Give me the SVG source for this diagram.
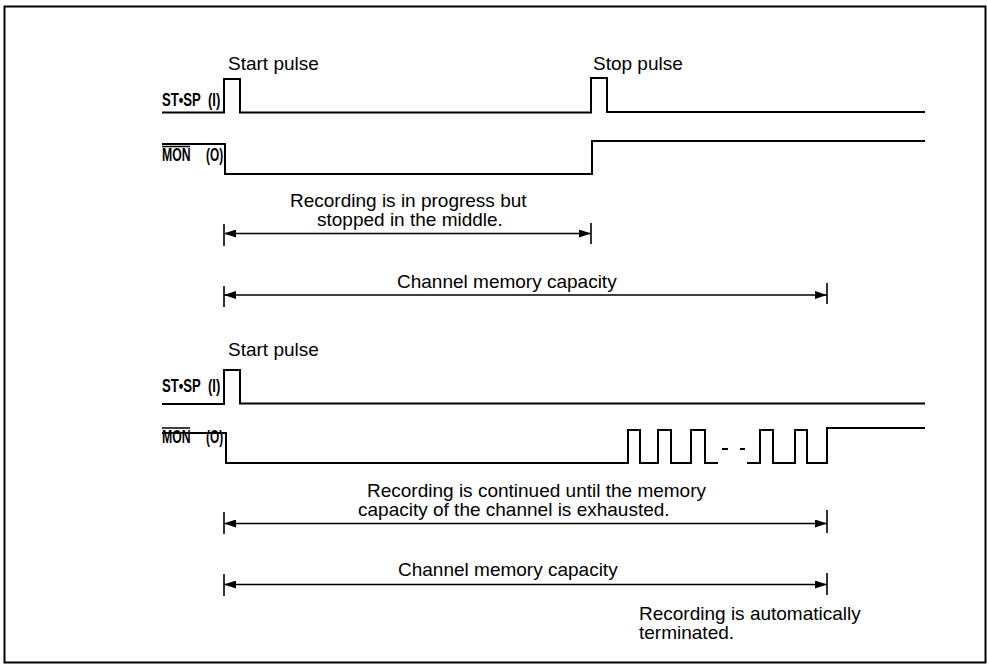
<svg xmlns="http://www.w3.org/2000/svg" width="987" height="664" viewBox="0 0 987 664">
<style>
.sig{fill:none;stroke:#000;stroke-width:2}
.dim{fill:none;stroke:#000;stroke-width:1.6}
.tick{stroke:#000;stroke-width:1.6}
.t{font-family:"Liberation Sans",Arial,sans-serif;font-size:19px;fill:#000}
.lb{font-family:"Liberation Sans",Arial,sans-serif;font-size:17.5px;font-weight:bold;fill:#000}
</style>
<defs>
<marker id="ah" viewBox="0 0 12 8" refX="12" refY="4" markerWidth="12" markerHeight="8" markerUnits="userSpaceOnUse" orient="auto-start-reverse">
<path d="M0,0 L12,4 L0,8 Z" fill="#000"/>
</marker>
</defs>
<rect x="4.5" y="6.5" width="981" height="656" fill="#fff" stroke="#000" stroke-width="2"/>

<g id="labels">
<text class="lb" transform="translate(162,106) scale(0.75,1)">ST•SP</text>
<text class="lb" transform="translate(208,106) scale(0.75,1)">(I)</text>
<text class="lb" transform="translate(162,161) scale(0.7,1)">MON</text>
<line x1="162" y1="146.5" x2="190" y2="146.5" stroke="#000" stroke-width="1.5"/>
<text class="lb" transform="translate(206,161) scale(0.68,1)">(O)</text>
<text class="lb" transform="translate(162,392) scale(0.75,1)">ST•SP</text>
<text class="lb" transform="translate(208,392) scale(0.75,1)">(I)</text>
<text class="lb" transform="translate(162,443) scale(0.7,1)">MON</text>
<line x1="162" y1="428" x2="190" y2="428" stroke="#000" stroke-width="1.5"/>
<text class="lb" transform="translate(206,443) scale(0.68,1)">(O)</text>
</g>

<g id="top-stsp">
<path class="sig" d="M162,112.5 H224 V79 H240 V112.5 H591 V78 H607 V112 H925"/>
<text class="t" x="228" y="70">Start pulse</text>
<text class="t" x="593" y="70">Stop pulse</text>
</g>

<g id="top-mon">
<path class="sig" d="M162,144 H225 V174 H592 V141 H925"/>
</g>

<g id="bottom-stsp">
<path class="sig" d="M162,404 H224 V370 H240 V403.5 H925"/>
<text class="t" x="228" y="356">Start pulse</text>
</g>

<g id="bottom-mon">
<path class="sig" d="M162,433 H226 V463 H628 V430 H640 V463 H658 V430 H671 V463 H691 V430 H705 V463 H718"/>
<path class="sig" d="M722,449 H728 M740,449 H745"/>
<path class="sig" d="M747,463 H760 V430 H773 V463 H795 V430 H807 V463 H827 V428 H925"/>
</g>

<g id="connectors">
<line class="tick" x1="224" y1="224" x2="224" y2="246"/>
<line class="tick" x1="591" y1="223" x2="591" y2="244"/>
<line class="dim" x1="224" y1="233.5" x2="591" y2="233.5" marker-start="url(#ah)" marker-end="url(#ah)"/>

<line class="tick" x1="224" y1="286" x2="224" y2="307"/>
<line class="tick" x1="827" y1="283" x2="827" y2="304"/>
<line class="dim" x1="224" y1="295" x2="827" y2="295" marker-start="url(#ah)" marker-end="url(#ah)"/>

<line class="tick" x1="224" y1="512" x2="224" y2="534"/>
<line class="tick" x1="827" y1="510" x2="827" y2="533"/>
<line class="dim" x1="224" y1="523.5" x2="827" y2="523.5" marker-start="url(#ah)" marker-end="url(#ah)"/>

<line class="tick" x1="224" y1="574" x2="224" y2="596"/>
<line class="tick" x1="827" y1="573" x2="827" y2="595"/>
<line class="dim" x1="224" y1="584.5" x2="827" y2="584.5" marker-start="url(#ah)" marker-end="url(#ah)"/>
</g>

<g id="dim-labels">
<text class="t" x="290" y="207">Recording is in progress but</text>
<text class="t" x="317" y="226">stopped in the middle.</text>
<text class="t" x="397" y="288">Channel memory capacity</text>
<text class="t" x="367" y="497">Recording is continued until the memory</text>
<text class="t" x="358" y="516">capacity of the channel is exhausted.</text>
<text class="t" x="398" y="576">Channel memory capacity</text>
<text class="t" x="639" y="620">Recording is automatically</text>
<text class="t" x="639" y="639">terminated.</text>
</g>
</svg>
